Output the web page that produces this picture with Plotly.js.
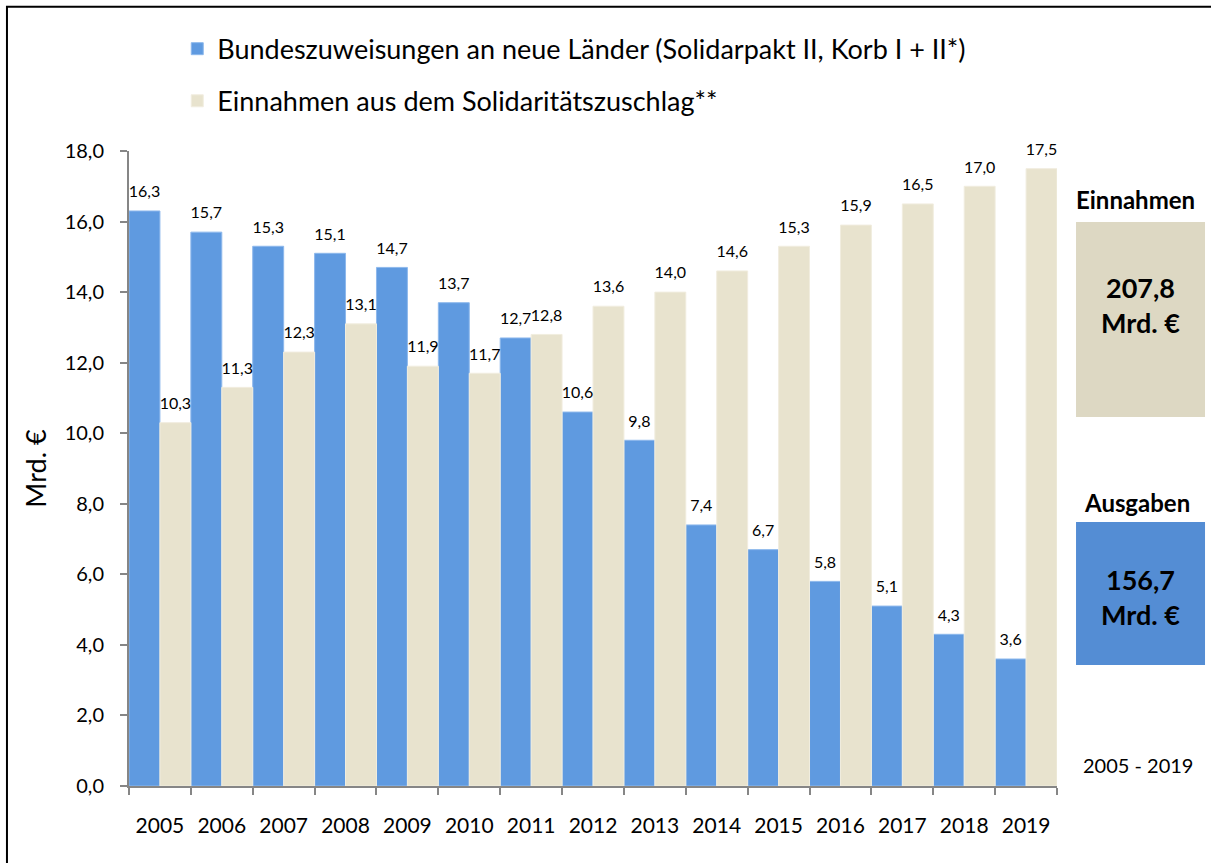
<!DOCTYPE html>
<html>
<head>
<meta charset="utf-8">
<script src="https://cdn.plot.ly/plotly-3.0.1.min.js"></script>
<style>
html,body{margin:0;padding:0;background:#fff;}
#chart{width:1211px;height:863px;}
</style>
</head>
<body>
<div id="chart"></div>
<script>
const years = ['2005','2006','2007','2008','2009','2010','2011','2012','2013','2014','2015','2016','2017','2018','2019'];
const bundeszuweisungen = [16.3,15.7,15.3,15.1,14.7,13.7,12.7,10.6,9.8,7.4,6.7,5.8,5.1,4.3,3.6];
const einnahmen = [10.3,11.3,12.3,13.1,11.9,11.7,12.8,13.6,14.0,14.6,15.3,15.9,16.5,17.0,17.5];
const seriesNames = ['Bundeszuweisungen an neue Länder (Solidarpakt II, Korb I + II*)','Einnahmen aus dem Solidaritätszuschlag**'];
const yTicks = [0,2,4,6,8,10,12,14,16,18];
const totalEinnahmen = '207,8';
const totalAusgaben = '156,7';
const periodLabel = '2005 - 2019';

const FONT = 'Lato, "Open Sans", sans-serif';
const labelFont = {family: FONT, size: 16, color: '#000'};

function barTrace(y, name, group, color, lineColor) {
  return {
    type: 'bar', x: years, y: y, name: name, legendgroup: group, offsetgroup: group,
    marker: {color: color, line: {color: lineColor, width: 1}},
    hoverinfo: 'x+y'
  };
}
function labelTrace(y, group) {
  return {
    type: 'scatter', mode: 'markers+text', x: years, y: y, offsetgroup: group,
    marker: {size: 14, opacity: 0}, showlegend: false,
    texttemplate: '%{y:.1f}', textposition: 'top center', textfont: labelFont,
    cliponaxis: false, hoverinfo: 'skip'
  };
}

const traces = [
  barTrace(bundeszuweisungen, seriesNames[0], 'a', '#5F9AE0', '#8DB8EC'),
  barTrace(einnahmen, seriesNames[1], 'b', '#E8E3CE', '#F1EDDF'),
  labelTrace(bundeszuweisungen, 'a'),
  labelTrace(einnahmen, 'b')
];

const layout = {
  width: 1211, height: 863,
  margin: {l: 129, r: 154, t: 151, b: 77},
  paper_bgcolor: '#fff', plot_bgcolor: '#fff',
  separators: ',.',
  barmode: 'group', bargap: 0, bargroupgap: 0,
  scattermode: 'group', scattergap: 0,
  font: {family: FONT, color: '#000'},
  showlegend: true,
  legend: {
    x: 0.052, xanchor: 'left', y: 1.199, yanchor: 'top',
    orientation: 'v', font: {family: FONT, size: 27, color: '#000'},
    tracegroupgap: 14, bgcolor: 'rgba(0,0,0,0)'
  },
  xaxis: {
    type: 'category', tickson: 'boundaries',
    showline: true, linecolor: '#868686', linewidth: 2,
    ticks: 'outside', ticklen: 7, tickcolor: '#868686', tickwidth: 2,
    ticklabelstandoff: 20,
    tickfont: {family: FONT, size: 21, color: '#000'},
    showgrid: false, zeroline: false, fixedrange: true
  },
  yaxis: {
    range: [0, 18], tickvals: yTicks, tickformat: '.1f',
    showline: true, linecolor: '#868686', linewidth: 2,
    ticks: 'outside', ticklen: 7, tickcolor: '#868686', tickwidth: 2,
    ticklabelstandoff: 12,
    tickfont: {family: FONT, size: 20, color: '#000'},
    showgrid: false, zeroline: false, fixedrange: true,
    title: {text: 'Mrd. €', font: {family: FONT, size: 27, color: '#000'}, standoff: 10}
  },
  shapes: [
    {type: 'rect', xref: 'paper', yref: 'paper', x0: 1.0205, x1: 1.1595, y0: 0.5811, y1: 0.8882,
     fillcolor: '#DDD8C3', line: {width: 0}, layer: 'below'},
    {type: 'rect', xref: 'paper', yref: 'paper', x0: 1.0205, x1: 1.1595, y0: 0.1906, y1: 0.4157,
     fillcolor: '#548DD4', line: {width: 0}, layer: 'below'},
    {type: 'rect', xref: 'paper', yref: 'paper', x0: -0.1315, x1: 1.25, y0: -0.2, y1: 1.227,
     fillcolor: 'rgba(0,0,0,0)', line: {color: '#000', width: 2}, layer: 'above'}
  ],
  annotations: [
    {xref: 'paper', yref: 'paper', x: 1.085, y: 0.9244, xanchor: 'center', yanchor: 'middle',
     text: '<b>Einnahmen</b>', showarrow: false, font: {family: FONT, size: 24, color: '#000'}},
    {xref: 'paper', yref: 'paper', x: 1.09, y: 0.7575, xanchor: 'center', yanchor: 'middle', align: 'center',
     text: '<b>' + totalEinnahmen + '<br>Mrd. €</b>', showarrow: false, font: {family: FONT, size: 27, color: '#000'}},
    {xref: 'paper', yref: 'paper', x: 1.086, y: 0.4472, xanchor: 'center', yanchor: 'middle',
     text: '<b>Ausgaben</b>', showarrow: false, font: {family: FONT, size: 24, color: '#000'}},
    {xref: 'paper', yref: 'paper', x: 1.09, y: 0.2976, xanchor: 'center', yanchor: 'middle', align: 'center',
     text: '<b>' + totalAusgaben + '<br>Mrd. €</b>', showarrow: false, font: {family: FONT, size: 27, color: '#000'}},
    {xref: 'paper', yref: 'paper', x: 1.087, y: 0.0331, xanchor: 'center', yanchor: 'middle',
     text: periodLabel, showarrow: false, font: {family: FONT, size: 20, color: '#000'}}
  ]
};

Plotly.newPlot('chart', traces, layout, {displayModeBar: false, staticPlot: true});
</script>
</body>
</html>
